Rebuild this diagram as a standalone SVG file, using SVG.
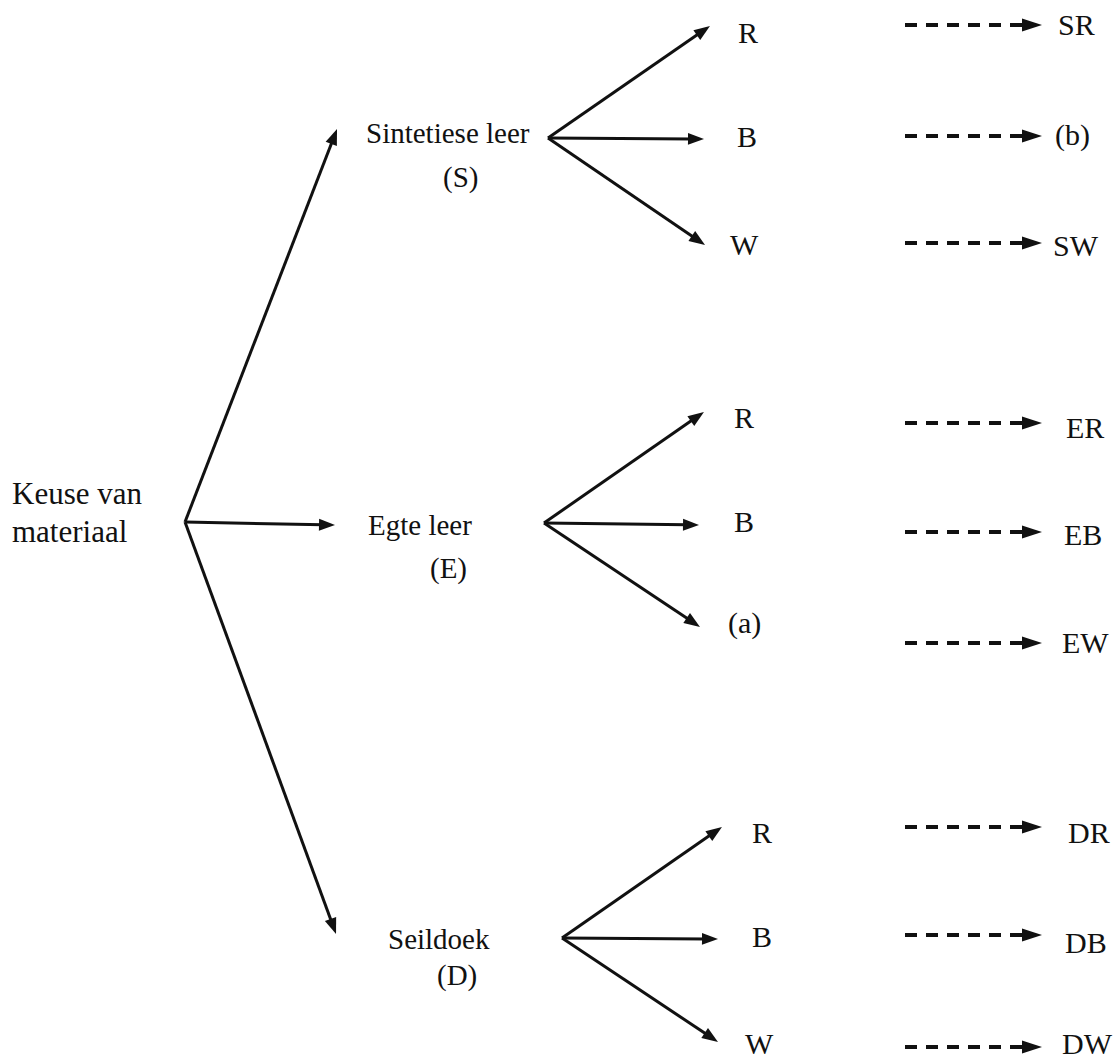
<svg xmlns="http://www.w3.org/2000/svg" width="1119" height="1060" viewBox="0 0 1119 1060" font-family="'Liberation Serif', 'Times New Roman', Times, 'DejaVu Serif', serif">
<style>
text{font-family:'Liberation Serif','Times New Roman',Times,'DejaVu Serif',serif;fill:#111;font-size:30px}
.nd{font-size:29px}
.big{font-size:31px}
.sol{stroke:#111;stroke-width:3;fill:none;marker-end:url(#ah)}
.dsh{stroke:#111;stroke-width:4;fill:none;stroke-dasharray:12 9;marker-end:url(#dh)}
</style>
<defs>
<marker id="ah" markerUnits="userSpaceOnUse" markerWidth="20" markerHeight="14" refX="4" refY="6" orient="auto" overflow="visible">
<path d="M0,0 L16,6 L0,12 z" fill="#111"/>
</marker>
<marker id="dh" markerUnits="userSpaceOnUse" markerWidth="22" markerHeight="14" refX="0" refY="6.5" orient="auto" overflow="visible">
<path d="M0,0 L20,6.5 L0,13 z" fill="#111"/>
</marker>
</defs>
<rect width="1119" height="1060" fill="#fff"/>
<g id="connectors">
<line class="sol" x1="185" y1="522" x2="332.7" y2="140.2"/>
<line class="sol" x1="185" y1="522" x2="323" y2="524.8"/>
<line class="sol" x1="185" y1="522" x2="331.9" y2="922.7"/>
<line class="sol" x1="548" y1="138" x2="700.1" y2="32.8"/>
<line class="sol" x1="548" y1="138" x2="692" y2="138.9"/>
<line class="sol" x1="548" y1="138" x2="695.1" y2="238.2"/>
<line class="sol" x1="544" y1="523" x2="694.1" y2="418.8"/>
<line class="sol" x1="544" y1="523" x2="687" y2="524.8"/>
<line class="sol" x1="544" y1="523" x2="690" y2="620.3"/>
<line class="sol" x1="562" y1="938" x2="712.1" y2="833.8"/>
<line class="sol" x1="562" y1="938" x2="706" y2="938.9"/>
<line class="sol" x1="562" y1="938" x2="708" y2="1035.3"/>
<line class="dsh" x1="905" y1="25" x2="1022" y2="25"/>
<line class="dsh" x1="905" y1="136" x2="1022" y2="136"/>
<line class="dsh" x1="905" y1="243" x2="1022" y2="243"/>
<line class="dsh" x1="905" y1="423" x2="1022" y2="423"/>
<line class="dsh" x1="905" y1="532" x2="1022" y2="532"/>
<line class="dsh" x1="905" y1="643" x2="1022" y2="643"/>
<line class="dsh" x1="905" y1="827" x2="1022" y2="827"/>
<line class="dsh" x1="905" y1="935" x2="1022" y2="935"/>
<line class="dsh" x1="905" y1="1047" x2="1022" y2="1047"/>
</g>
<g id="root"><text class="big" x="12" y="504">Keuse van</text><text class="big" x="12" y="542">materiaal</text></g>
<g id="S"><text class="nd" x="366" y="143">Sintetiese leer</text><text class="nd" x="443" y="187">(S)</text></g>
<g id="E"><text class="nd" x="368" y="535">Egte leer</text><text class="nd" x="430" y="578">(E)</text></g>
<g id="D"><text class="nd" x="388" y="949">Seildoek</text><text class="nd" x="437" y="985">(D)</text></g>
<g id="SR"><text x="738" y="43">R</text></g>
<g id="SB"><text x="737" y="147">B</text></g>
<g id="SW"><text x="730" y="255">W</text></g>
<g id="ER"><text x="734" y="428">R</text></g>
<g id="EB"><text x="734" y="532">B</text></g>
<g id="Ea"><text x="728" y="633">(a)</text></g>
<g id="DR"><text x="752" y="843">R</text></g>
<g id="DB"><text x="752" y="947">B</text></g>
<g id="DW"><text x="745" y="1054">W</text></g>
<g id="out-SR"><text x="1058" y="35">SR</text></g>
<g id="out-Sb"><text x="1055" y="145">(b)</text></g>
<g id="out-SW"><text x="1053" y="256">SW</text></g>
<g id="out-ER"><text x="1066" y="438">ER</text></g>
<g id="out-EB"><text x="1064" y="545">EB</text></g>
<g id="out-EW"><text x="1062" y="653">EW</text></g>
<g id="out-DR"><text x="1068" y="843">DR</text></g>
<g id="out-DB"><text x="1065" y="953">DB</text></g>
<g id="out-DW"><text x="1062" y="1054">DW</text></g>
</svg>
